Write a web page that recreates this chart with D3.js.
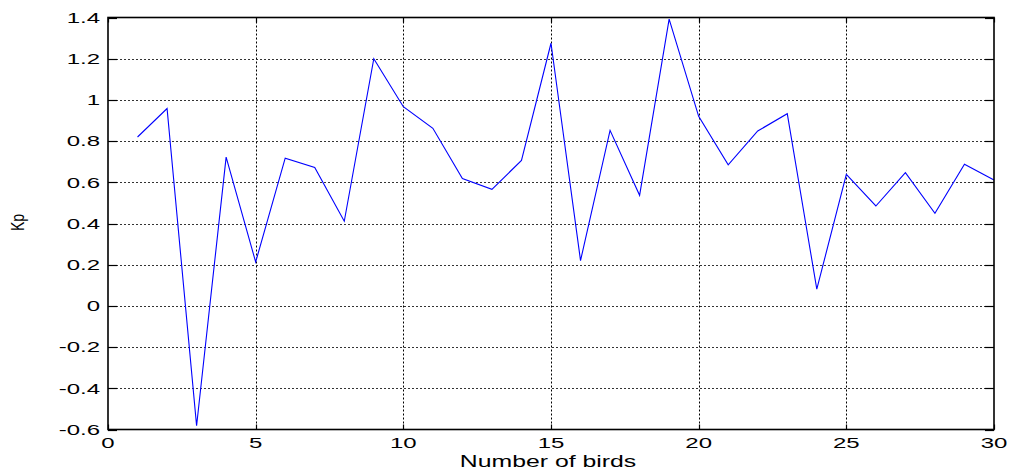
<!DOCTYPE html>
<html>
<head>
<meta charset="utf-8">
<script src="https://cdn.jsdelivr.net/npm/d3@7"></script>
<style>
  html, body { margin: 0; padding: 0; background: #fff; }
  svg { display: block; }
  text { font-family: "Liberation Sans", Arial, sans-serif; fill: #000; }
</style>
</head>
<body>
<svg id="chart" width="1015" height="475"></svg>
<script>
// ---- data ----
const birds = [1,2,3,4,5,6,7,8,9,10,11,12,13,14,15,16,17,18,19,20,21,22,23,24,25,26,27,28,29,30];
const kp = [0.82,0.958,-0.582,0.722,0.213,0.717,0.672,0.411,1.200,0.967,
            0.862,0.618,0.566,0.706,1.275,0.220,0.852,0.537,1.392,0.92,
            0.685,0.849,0.933,0.081,0.639,0.485,0.647,0.450,0.688,0.611];
const xTicks = [0,5,10,15,20,25,30];
const yTicks = [-0.6,-0.4,-0.2,0,0.2,0.4,0.6,0.8,1,1.2,1.4];
const xLabel = "Number of birds";
const yLabel = "Kp";

// ---- layout ----
const L = 108, R = 994, T = 17.5, B = 429.5;
const sx = 1.6; // horizontal text stretch seen in the reference

const svg = d3.select("#chart");
const x = d3.scaleLinear().domain([0,30]).range([L,R]);
const y = d3.scaleLinear().domain([-0.6,1.4]).range([B,T]);

// grid
const grid = svg.append("g");
grid.selectAll("line.vx").data(xTicks.filter(d => d > 0 && d < 30)).join("line")
  .attr("x1", d => Math.round(x(d)) + 0.5).attr("x2", d => Math.round(x(d)) + 0.5)
  .attr("y1", T).attr("y2", B)
  .attr("stroke", "#000").attr("stroke-width", 1).attr("stroke-dasharray", "2,2");
grid.selectAll("line.hy").data(yTicks.filter(d => d > -0.6 && d < 1.4)).join("line")
  .attr("y1", d => Math.round(y(d)) + 0.5).attr("y2", d => Math.round(y(d)) + 0.5)
  .attr("x1", L).attr("x2", R)
  .attr("stroke", "#333").attr("stroke-width", 1).attr("stroke-dasharray", "2,2");

// data line
svg.append("path")
  .datum(birds.map((b,i) => [b, kp[i]]))
  .attr("fill", "none")
  .attr("stroke", "#0000ff")
  .attr("stroke-width", 1.1)
  .attr("stroke-linejoin", "miter")
  .attr("d", d3.line().x(d => x(d[0])).y(d => y(d[1])));

// ticks (inside, all four sides)
const tk = svg.append("g").attr("stroke", "#000").attr("stroke-width", 1.2);
yTicks.forEach(v => {
  const yy = Math.round(y(v)) + 0.5;
  tk.append("line").attr("x1", L).attr("x2", L + 9).attr("y1", yy).attr("y2", yy);
  tk.append("line").attr("x1", R).attr("x2", R - 9).attr("y1", yy).attr("y2", yy);
});
xTicks.forEach(v => {
  const xx = Math.round(x(v)) + 0.5;
  tk.append("line").attr("x1", xx).attr("x2", xx).attr("y1", B).attr("y2", B - 5);
  tk.append("line").attr("x1", xx).attr("x2", xx).attr("y1", T).attr("y2", T + 5);
});

// frame
svg.append("rect").attr("x", L).attr("y", T).attr("width", R - L).attr("height", B - T)
  .attr("fill", "none").attr("stroke", "#000").attr("stroke-width", 1.6);

// tick labels
const fmt = d => (d === 0 ? "0" : String(+d.toFixed(1)));
svg.append("g").selectAll("text").data(yTicks).join("text")
  .attr("transform", d => `translate(${L - 8},${y(d) + 5.3}) scale(${sx},1)`)
  .attr("text-anchor", "end")
  .attr("font-size", 15)
  .text(fmt);
svg.append("g").selectAll("text").data(xTicks).join("text")
  .attr("transform", d => `translate(${x(d)},${B + 18}) scale(${sx},1)`)
  .attr("text-anchor", "middle")
  .attr("font-size", 15)
  .text(d => d);

// axis labels
svg.append("text")
  .attr("transform", `translate(${(L + R) / 2 - 3},${466.5}) scale(1.55,1)`)
  .attr("text-anchor", "middle")
  .attr("font-size", 16)
  .text(xLabel);
svg.append("text")
  .attr("transform", `translate(24,${222.5}) scale(1.35,1) rotate(-90)`)
  .attr("text-anchor", "middle")
  .attr("font-size", 14)
  .text(yLabel);
</script>
</body>
</html>
